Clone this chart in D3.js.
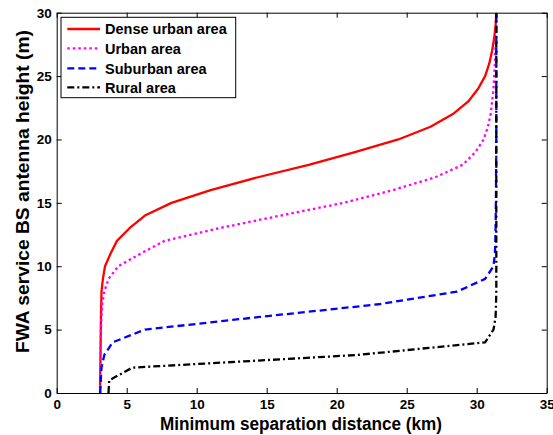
<!DOCTYPE html>
<html>
<head>
<meta charset="utf-8">
<script src="https://cdn.jsdelivr.net/npm/d3@7"></script>
<style>
  html, body { margin: 0; padding: 0; background: #fff; }
  svg { display: block; }
  text { font-family: "Liberation Sans", Arial, sans-serif; font-weight: bold; }
</style>
</head>
<body>
<svg id="chart" width="553" height="435"></svg>
<script>
// Heights (m) sampled every 1 m
const heights = d3.range(0, 31);
// Minimum separation distance (km) for each height
const denseUrban = [3.1, 3.1, 3.12, 3.13, 3.14, 3.15, 3.16, 3.18, 3.2, 3.3, 3.45, 3.85, 4.3, 5.2, 6.3, 8.2, 11.0, 14.3, 18.0, 21.3, 24.4, 26.7, 28.3, 29.4, 30.1, 30.6, 30.9, 31.1, 31.25, 31.35, 31.4];
const urban = [3.1, 3.1, 3.12, 3.13, 3.14, 3.16, 3.2, 3.25, 3.4, 3.7, 4.4, 6.0, 7.7, 11.6, 16.0, 20.5, 24.0, 27.0, 29.0, 29.9, 30.5, 30.8, 31.0, 31.1, 31.2, 31.25, 31.3, 31.33, 31.36, 31.38, 31.4];
const suburban = [3.1, 3.15, 3.2, 3.4, 4.0, 6.3, 14.5, 23.0, 28.6, 30.6, 31.2, 31.3, 31.33, 31.35, 31.36, 31.37, 31.38, 31.38, 31.39, 31.39, 31.4, 31.4, 31.4, 31.4, 31.4, 31.4, 31.4, 31.4, 31.4, 31.4, 31.4];
const rural = [3.7, 3.75, 5.4, 21.5, 30.6, 31.2, 31.35, 31.38, 31.4, 31.4, 31.4, 31.4, 31.4, 31.4, 31.4, 31.4, 31.4, 31.4, 31.4, 31.4, 31.4, 31.4, 31.4, 31.4, 31.4, 31.4, 31.4, 31.4, 31.4, 31.4, 31.4];

const seriesNames = ["Dense urban area", "Urban area", "Suburban area", "Rural area"];
const seriesValues = [denseUrban, urban, suburban, rural];
const xTicks = [0, 5, 10, 15, 20, 25, 30, 35];
const yTicks = [0, 5, 10, 15, 20, 25, 30];
const xLabel = "Minimum separation distance (km)";
const yLabel = "FWA service BS antenna height (m)";

const styles = [
  { color: "#ff0000", dash: null },
  { color: "#ff00ff", dash: "2.5,3" },
  { color: "#0000ff", dash: "7,4" },
  { color: "#000000", dash: "7,3,2,3" }
];

const svg = d3.select("#chart");
const pLeft = 56.7, pRight = 546.7, pTop = 12.7, pBottom = 393;
const x = d3.scaleLinear().domain([0, 35]).range([pLeft, pRight]);
const y = d3.scaleLinear().domain([0, 30]).range([pBottom, pTop]);

// Curves
const line = d3.line().x(d => x(d[0])).y(d => y(d[1]));
svg.append("clipPath").attr("id", "clip").append("rect")
  .attr("x", pLeft).attr("y", pTop).attr("width", pRight - pLeft).attr("height", pBottom - pTop);
const g = svg.append("g").attr("clip-path", "url(#clip)");
seriesValues.forEach((vals, i) => {
  const pts = vals.map((v, j) => [v, heights[j]]);
  g.append("path").datum(pts)
    .attr("d", line)
    .attr("fill", "none")
    .attr("stroke", styles[i].color)
    .attr("stroke-width", 2.3)
    .attr("stroke-dasharray", styles[i].dash)
    .attr("stroke-linejoin", "round");
});

// Axes
function styleAxis(sel) {
  sel.select(".domain").attr("stroke", "#000").attr("stroke-width", 1);
  sel.selectAll(".tick line").attr("stroke", "#000");
  sel.selectAll(".tick text").attr("fill", "#000").style("font-size", "13.5px").style("font-weight", "bold");
}
svg.append("g").attr("transform", `translate(0,${pBottom})`)
  .call(d3.axisBottom(x).tickValues(xTicks).tickSizeInner(-5).tickSizeOuter(0).tickPadding(6).tickFormat(d3.format("d")))
  .call(styleAxis);
svg.append("g").attr("transform", `translate(0,${pTop})`)
  .call(d3.axisTop(x).tickValues(xTicks).tickSizeInner(-5).tickSizeOuter(0).tickFormat(""))
  .call(styleAxis);
svg.append("g").attr("transform", `translate(${pLeft},0)`)
  .call(d3.axisLeft(y).tickValues(yTicks).tickSizeInner(-5).tickSizeOuter(0).tickPadding(5).tickFormat(d3.format("d")))
  .call(styleAxis);
svg.append("g").attr("transform", `translate(${pRight},0)`)
  .call(d3.axisRight(y).tickValues(yTicks).tickSizeInner(-5).tickSizeOuter(0).tickFormat(""))
  .call(styleAxis);

// Axis labels
svg.append("text").attr("x", 301).attr("y", 429.5)
  .attr("text-anchor", "middle").style("font-size", "17.5px")
  .attr("textLength", 282).attr("lengthAdjust", "spacingAndGlyphs").text(xLabel);
svg.append("text").attr("transform", `translate(28.5,191.5) rotate(-90)`)
  .attr("text-anchor", "middle").style("font-size", "17.5px")
  .attr("textLength", 323).attr("lengthAdjust", "spacingAndGlyphs").text(yLabel);

// Legend
const lg = svg.append("g");
lg.append("rect").attr("x", 61).attr("y", 17.3).attr("width", 174.7).attr("height", 80.4)
  .attr("fill", "#fff").attr("stroke", "#000").attr("stroke-width", 1);
const rowY = [29, 48.3, 68.3, 87.3];
seriesNames.forEach((name, i) => {
  lg.append("line").attr("x1", 67.3).attr("x2", 100).attr("y1", rowY[i]).attr("y2", rowY[i])
    .attr("stroke", styles[i].color).attr("stroke-width", 2.3)
    .attr("stroke-dasharray", styles[i].dash);
  lg.append("text").attr("x", 105).attr("y", rowY[i]).attr("dy", "0.36em")
    .style("font-size", "14.5px").text(name);
});
</script>
</body>
</html>
